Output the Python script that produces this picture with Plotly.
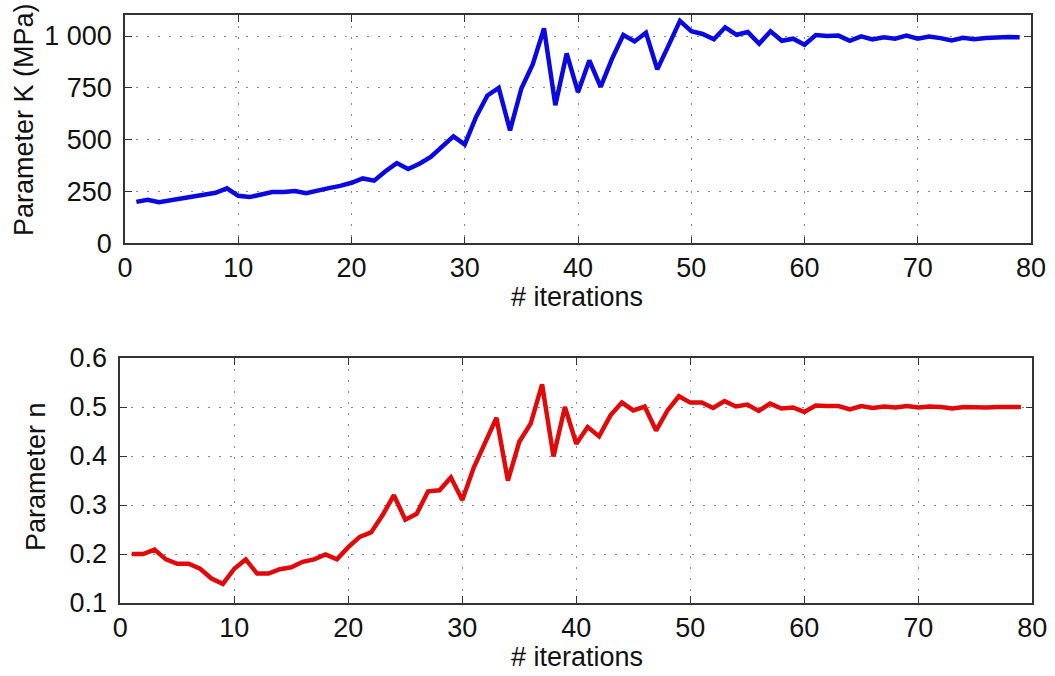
import plotly.graph_objects as go

iterations = list(range(1, 80))

K_values = [200, 210, 198, 208, 215, 226, 239, 244, 265, 229,
            223, 235, 247, 248, 252, 242, 256, 266, 277, 292,
            313, 302, 348, 387, 358, 384, 417, 465, 516, 477,
            610, 713, 750, 545, 747, 863, 1037, 666, 916, 729,
            882, 755, 890, 1005, 974, 1016, 839, 955, 1073, 1023,
            1010, 984, 1042, 1006, 1019, 963, 1023, 977, 987, 958,
            1005, 1000, 1002, 977, 998, 984, 994, 987, 1002, 987,
            998, 990, 979, 992, 984, 990, 994, 995, 994]

n_values = [0.200, 0.200, 0.209, 0.189, 0.180, 0.180, 0.170, 0.150, 0.139, 0.170,
            0.189, 0.160, 0.160, 0.169, 0.173, 0.184, 0.189, 0.199, 0.189, 0.214,
            0.235, 0.244, 0.279, 0.320, 0.270, 0.282, 0.328, 0.330, 0.356, 0.310,
            0.376, 0.429, 0.478, 0.350, 0.429, 0.466, 0.546, 0.399, 0.500, 0.425,
            0.459, 0.440, 0.483, 0.509, 0.493, 0.501, 0.452, 0.493, 0.522, 0.509,
            0.509, 0.498, 0.512, 0.501, 0.505, 0.492, 0.507, 0.497, 0.499, 0.490,
            0.503, 0.502, 0.502, 0.495, 0.502, 0.498, 0.501, 0.499, 0.502, 0.499,
            0.501, 0.500, 0.497, 0.500, 0.499, 0.499, 0.500, 0.500, 0.500]

x_ticks = [0, 10, 20, 30, 40, 50, 60, 70, 80]
K_ticks = [0, 250, 500, 750, 1000]
K_tick_labels = ["0", "250", "500", "750", "1 000"]
n_ticks = [0.1, 0.2, 0.3, 0.4, 0.5, 0.6]
n_tick_labels = ["0.1", "0.2", "0.3", "0.4", "0.5", "0.6"]

FONT = "Liberation Sans, Arial, Helvetica, sans-serif"
W, H = 1055, 676

fig = go.Figure()
fig.add_trace(go.Scatter(x=iterations, y=K_values, mode="lines",
                         line=dict(color="#0a0ae0", width=4.5),
                         xaxis="x", yaxis="y", showlegend=False))
fig.add_trace(go.Scatter(x=iterations, y=n_values, mode="lines",
                         line=dict(color="#e00a0a", width=4.5),
                         xaxis="x2", yaxis="y2", showlegend=False))

axis_common = dict(
    showline=True, linecolor="#333333", linewidth=1.5, mirror="ticks",
    ticks="inside", ticklen=7, tickwidth=1, tickcolor="#333333",
    showgrid=True, gridcolor="#8a8a8a", gridwidth=1, griddash="2px,9px",
    zeroline=False, tickfont=dict(family=FONT, size=27, color="#111111"),
    automargin=False,
)

fig.update_layout(
    width=W, height=H,
    margin=dict(l=0, r=0, t=0, b=0),
    paper_bgcolor="white", plot_bgcolor="white",
    xaxis=dict(domain=[125 / W, 1031 / W], anchor="y", range=[0, 80],
               tickvals=x_ticks, ticklabelstandoff=0, **axis_common),
    yaxis=dict(domain=[1 - 243.3 / H, 1 - 15.3 / H], anchor="x", range=[0, 1100],
               tickvals=K_ticks, ticktext=K_tick_labels, ticklabelstandoff=6,
               **axis_common),
    xaxis2=dict(domain=[120.3 / W, 1032.3 / W], anchor="y2", range=[0, 80],
                tickvals=x_ticks, ticklabelstandoff=0, **axis_common),
    yaxis2=dict(domain=[1 - 603 / H, 1 - 358 / H], anchor="x2", range=[0.1, 0.6],
                tickvals=n_ticks, ticktext=n_tick_labels, ticklabelstandoff=6,
                **axis_common),
)

title_font = dict(family=FONT, size=27, color="#111111")
fig.add_annotation(text="# iterations", xref="paper", yref="paper",
                   x=577 / W, y=1 - 297 / H, xanchor="center", yanchor="middle",
                   showarrow=False, font=title_font)
fig.add_annotation(text="# iterations", xref="paper", yref="paper",
                   x=577 / W, y=1 - 657 / H, xanchor="center", yanchor="middle",
                   showarrow=False, font=title_font)
fig.add_annotation(text="Parameter K (MPa)", xref="paper", yref="paper",
                   x=24 / W, y=1 - 120 / H, xanchor="center", yanchor="middle",
                   textangle=-90, showarrow=False, font=title_font)
fig.add_annotation(text="Parameter n", xref="paper", yref="paper",
                   x=36 / W, y=1 - 477 / H, xanchor="center", yanchor="middle",
                   textangle=-90, showarrow=False, font=title_font)

fig.write_html("out.html")
